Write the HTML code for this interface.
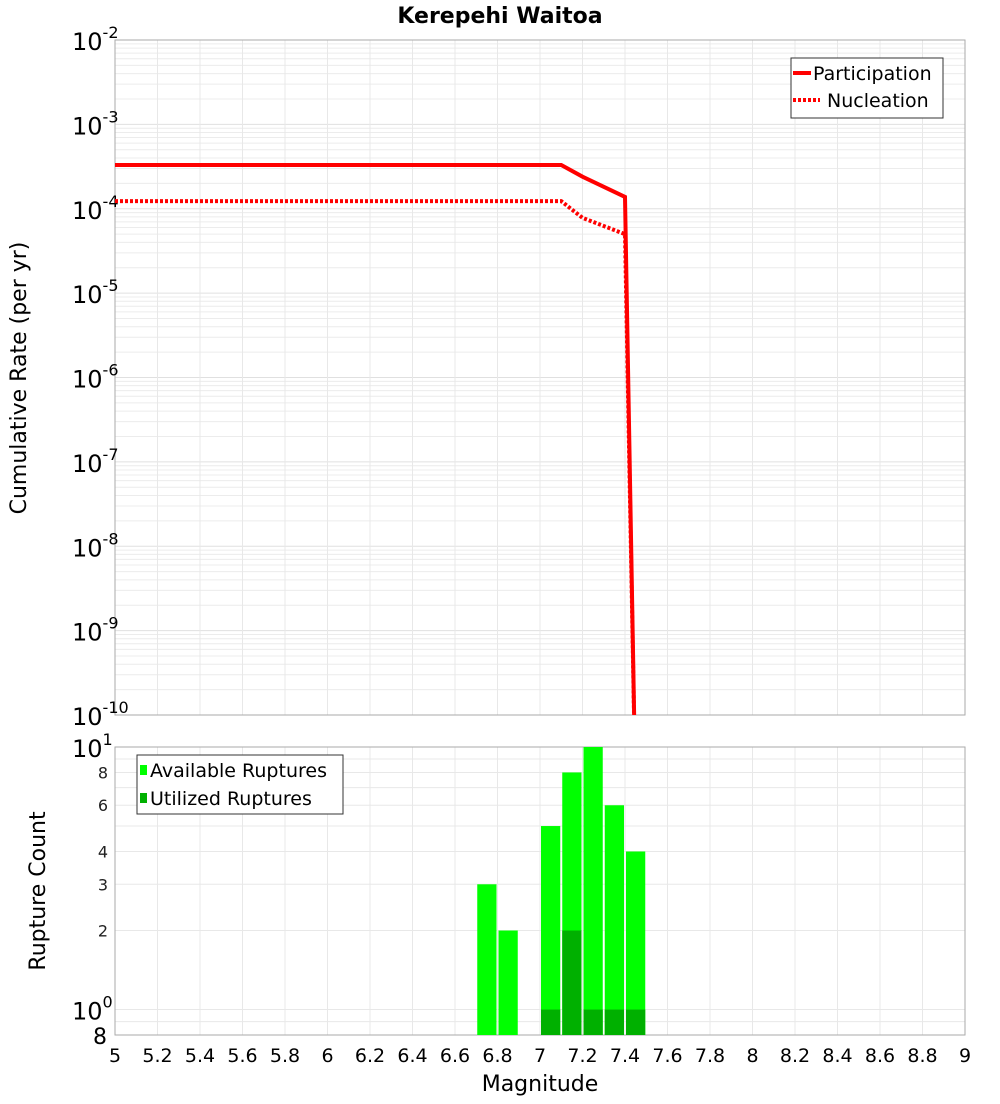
<!DOCTYPE html>
<html><head><meta charset="utf-8"><style>
body{margin:0;background:#fff;width:1000px;height:1100px;overflow:hidden;font-family:"DejaVu Sans","Liberation Sans",sans-serif}
</style></head><body>
<svg id="c" width="1000" height="1100" style="font-family:'DejaVu Sans','Liberation Sans',sans-serif"></svg>
<script>
const mags=[5.0,7.1,7.2,7.4,7.45];
const partRates=[3.3e-4,3.3e-4,2.4e-4,1.38e-4,1e-11];
const nuclMags=[5.0,7.1,7.2,7.4,7.45];
const nuclRates=[1.23e-4,1.23e-4,7.8e-5,5e-5,1e-11];
const binCenters=[6.75,6.85,7.05,7.15,7.25,7.35,7.45];
const available=[3,2,5,8,10,6,4];
const utilized=[0,0,1,2,1,1,1];
const xTicks=["5","5.2","5.4","5.6","5.8","6","6.2","6.4","6.6","6.8","7","7.2","7.4","7.6","7.8","8","8.2","8.4","8.6","8.8","9"];
const topExps=[-2,-3,-4,-5,-6,-7,-8,-9,-10];
const botTicks=["8","10^0","2","3","4","6","8","10^1"];
const botTickVals=[0.8,1,2,3,4,6,8,10];

const svg=document.getElementById('c');
const NS='http://www.w3.org/2000/svg';
function mk(t,a,p){const e=document.createElementNS(NS,t);for(const k in a)e.setAttribute(k,a[k]);(p||svg).appendChild(e);return e;}
const L=115,R=965,T1=40,B1=715,T2=747,B2=1035;
const X=m=>L+(m-5)/(9-5)*(R-L);
const Y1=v=>T1+(-2-Math.log10(v))/8*(B1-T1);
const lmin=Math.log10(0.8),lmax=1;
const Y2=v=>B2-(Math.log10(v)-lmin)/(lmax-lmin)*(B2-T2);

// title
let t=mk('text',{x:500,y:23,'text-anchor':'middle','font-size':22,'font-weight':'bold'});t.textContent='Kerepehi Waitoa';


// top grid
const g1=mk('g',{});
for(let e=-10;e<-2;e++)for(let k=1;k<10;k++){const y=Y1(k*Math.pow(10,e));mk('line',{x1:L,x2:R,y1:y,y2:y,stroke:k==1?'#e0e0e0':'#ececec','stroke-width':1},g1);}
for(let i=0;i<xTicks.length;i++){const x=X(+xTicks[i]);mk('line',{x1:x,x2:x,y1:T1,y2:B1,stroke:'#e8e8e8'},g1);mk('line',{x1:x,x2:x,y1:T2,y2:B2,stroke:'#e8e8e8'},g1);}
for(let v=0.9;v<10.01;v+=(v<0.95?0.1:1)){const y=Y2(v);mk('line',{x1:L,x2:R,y1:y,y2:y,stroke:'#e8e8e8'},g1);}
let r=mk('rect',{x:L,y:T1,width:R-L,height:B1-T1,fill:'none',stroke:'#aaa'});
r=mk('rect',{x:L,y:T2,width:R-L,height:B2-T2,fill:'none',stroke:'#aaa'});

// top y ticks
topExps.forEach(e=>{const y=Y1(Math.pow(10,e));const tx=mk('text',{x:105,y:y+10,'text-anchor':'end','font-size':24});

tx.innerHTML='10<tspan dy="-12" font-size="16">'+e+'</tspan>';
tx.setAttribute('x',72);tx.setAttribute('text-anchor','start');});
t=mk('text',{x:0,y:0,'font-size':22,'text-anchor':'middle',transform:'translate(26,378) rotate(-90)'});t.textContent='Cumulative Rate (per yr)';


// lines
const clip=mk('clipPath',{id:'cp'});mk('rect',{x:L,y:T1,width:R-L,height:B1-T1},clip);
let p=mk('polyline',{points:mags.map((m,i)=>X(m)+','+Y1(partRates[i])).join(' '),fill:'none',stroke:'#f00','stroke-width':4,'clip-path':'url(#cp)'});

p=mk('polyline',{points:nuclMags.map((m,i)=>X(m)+','+Y1(nuclRates[i])).join(' '),fill:'none',stroke:'#f00','stroke-width':4,'stroke-dasharray':'3,2','clip-path':'url(#cp)'});


// top legend
const lg=mk('g',{});
mk('rect',{x:791,y:58,width:152,height:60,fill:'#fff',stroke:'#333'},lg);
mk('line',{x1:793,x2:811,y1:73,y2:73,stroke:'#f00','stroke-width':4},lg);
mk('line',{x1:793,x2:820,y1:100,y2:100,stroke:'#f00','stroke-width':4,'stroke-dasharray':'3,2'},lg);
t=mk('text',{x:813,y:80,'font-size':19},lg);t.textContent='Participation';
t=mk('text',{x:827,y:107,'font-size':19},lg);t.textContent='Nucleation';

// bars
const bw=X(5.1)-X(5)-2;
binCenters.forEach((c,i)=>{
 let b=mk('rect',{x:X(c)-bw/2,y:Y2(available[i]),width:bw,height:B2-Y2(available[i]),fill:'#00ff00'});
 
 if(utilized[i]>0){b=mk('rect',{x:X(c)-bw/2,y:Y2(utilized[i]),width:bw,height:B2-Y2(utilized[i]),fill:'#00b000'});
 }
});

// bottom y ticks
botTicks.forEach((s,i)=>{const y=Y2(botTickVals[i]);let tx;
 if(s.startsWith('10^')){tx=mk('text',{x:72,y:y+10,'font-size':24});tx.innerHTML='10<tspan dy="-12" font-size="16">'+s.slice(3)+'</tspan>';}
 else if(i==0){tx=mk('text',{x:107,y:y+9,'font-size':22,'text-anchor':'end'});tx.textContent=s;}
 else{tx=mk('text',{x:108,y:y+6,'font-size':16,'text-anchor':'end',fill:'#222'});tx.textContent=s;}
 });
t=mk('text',{x:0,y:0,'font-size':22,'text-anchor':'middle',transform:'translate(45,891) rotate(-90)'});t.textContent='Rupture Count';


// x ticks
xTicks.forEach(s=>{const tx=mk('text',{x:X(+s),y:1062,'font-size':19,'text-anchor':'middle'});tx.textContent=s;
 });
t=mk('text',{x:540,y:1091,'font-size':22,'text-anchor':'middle'});t.textContent='Magnitude';


// bottom legend
const lg2=mk('g',{});
mk('rect',{x:137,y:755,width:206,height:59,fill:'#fff',stroke:'#333'},lg2);
mk('rect',{x:140,y:765,width:7,height:10,fill:'#00ff00'},lg2);
mk('rect',{x:140,y:793,width:7,height:10,fill:'#00b000'},lg2);
t=mk('text',{x:150,y:777,'font-size':19},lg2);t.textContent='Available Ruptures';
t=mk('text',{x:150,y:805,'font-size':19},lg2);t.textContent='Utilized Ruptures';
</script>
</body></html>
